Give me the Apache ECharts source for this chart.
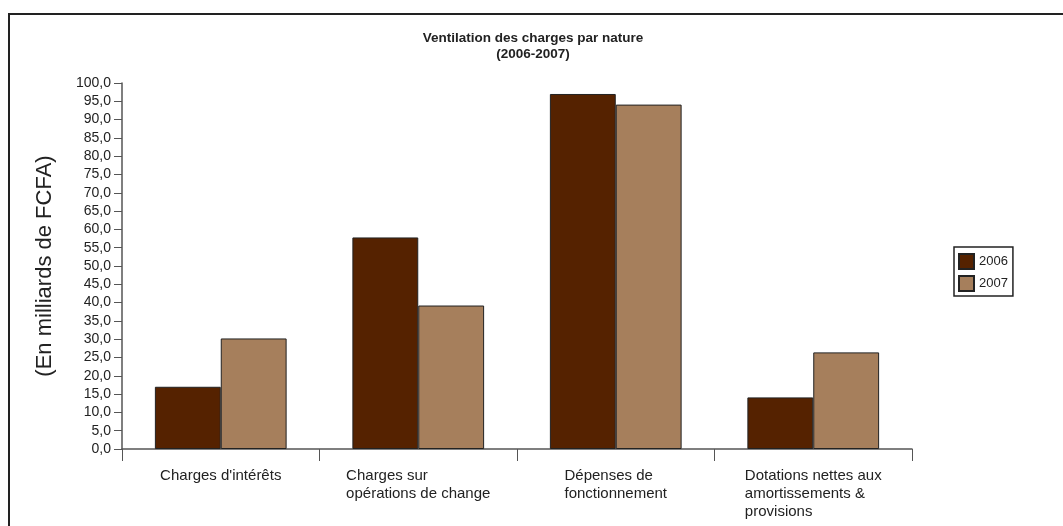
<!DOCTYPE html>
<html>
<head>
<meta charset="utf-8">
<script src="https://cdn.jsdelivr.net/npm/echarts@6/dist/echarts.min.js"></script>
<style>
  html, body { margin: 0; padding: 0; background: #fff; }
  #chart { width: 1063px; height: 526px; }
</style>
</head>
<body>
<div id="chart"></div>
<script>
// Charges by nature, in billions of FCFA
const categories = [
  "Charges d'intérêts",
  "Charges sur\nopérations de change",
  "Dépenses de\nfonctionnement",
  "Dotations nettes aux\namortissements &\nprovisions"
];
const seriesNames = ['2006', '2007'];
const values2006 = [17.0, 57.8, 97.0, 14.1];
const values2007 = [30.2, 39.2, 94.1, 26.4];
const yTicks = { min: 0, max: 100, step: 5 };

const colors = { y2006: '#552200', y2007: '#a67f5c', ink: '#222222', axis: '#555555' };
const font = 'Liberation Sans, Arial, sans-serif';

const chart = echarts.init(document.getElementById('chart'), null, { renderer: 'canvas' });

const barStyle = (color) => ({ color: color, borderColor: colors.ink, borderWidth: 1 });

chart.setOption({
  animation: false,
  title: {
    text: 'Ventilation des charges par nature\n(2006-2007)',
    left: 528,
    top: 25,
    textAlign: 'center',
    textStyle: { fontFamily: font, fontSize: 13.5, fontWeight: 'bold', color: colors.ink, lineHeight: 16 }
  },
  graphic: [{
    type: 'rect',
    shape: { x: 9, y: 14, width: 1100, height: 600 },
    style: { fill: 'none', stroke: colors.ink, lineWidth: 2 },
    silent: true,
    z: -1
  }],
  legend: {
    orient: 'vertical',
    left: 954,
    top: 247,
    data: seriesNames,
    itemWidth: 15,
    itemHeight: 15,
    itemGap: 5,
    padding: [6, 5, 4, 4],
    borderColor: colors.ink,
    borderWidth: 1.5,
    icon: 'rect',
    textStyle: { fontFamily: font, fontSize: 13, color: colors.ink }
  },
  grid: { left: 122, right: 151, top: 83, bottom: 77, containLabel: false },
  xAxis: {
    type: 'category',
    data: categories,
    boundaryGap: true,
    axisLine: { lineStyle: { color: colors.axis, width: 1.5 } },
    axisTick: { show: true, length: 12, lineStyle: { color: colors.axis, width: 1 } },
    axisLabel: {
      interval: 0,
      margin: 18,
      align: 'center',
      fontFamily: font,
      fontSize: 15,
      color: colors.ink,
      lineHeight: 18,
      formatter: (v) => v.split('\n').map(l => '{l|' + l + '}').join('\n'),
      rich: { l: { align: 'left', fontFamily: font, fontSize: 15, color: colors.ink, lineHeight: 18 } }
    }
  },
  yAxis: {
    type: 'value',
    min: yTicks.min,
    max: yTicks.max,
    interval: yTicks.step,
    name: '(En milliards de FCFA)',
    nameLocation: 'middle',
    nameRotate: 90,
    nameGap: 66,
    nameTextStyle: { fontFamily: font, fontSize: 22, color: colors.ink },
    splitLine: { show: false },
    axisLine: { show: true, lineStyle: { color: colors.axis, width: 1.5 } },
    axisTick: { show: true, length: 8, lineStyle: { color: colors.axis, width: 1 } },
    axisLabel: {
      margin: 11,
      fontFamily: font,
      fontSize: 14,
      color: colors.ink,
      formatter: (v) => v.toFixed(1).replace('.', ',')
    }
  },
  series: [
    {
      name: seriesNames[0],
      type: 'bar',
      data: values2006,
      barGap: '0%',
      barCategoryGap: '33.3%',
      itemStyle: barStyle(colors.y2006)
    },
    {
      name: seriesNames[1],
      type: 'bar',
      data: values2007,
      barGap: '0%',
      barCategoryGap: '33.3%',
      itemStyle: barStyle(colors.y2007)
    }
  ]
});
</script>
</body>
</html>
